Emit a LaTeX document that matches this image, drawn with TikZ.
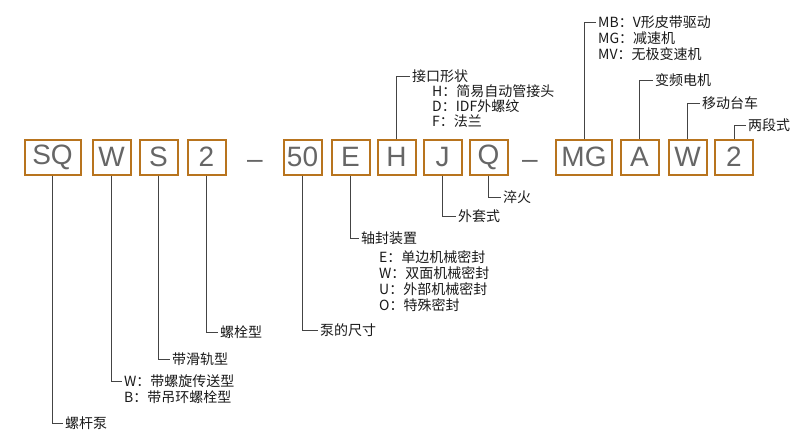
\documentclass[tikz,border=0pt]{standalone}
\usepackage{fontspec}
\setmainfont{Liberation Sans}
\newfontfamily\cjk{Noto Sans CJK SC}
\begin{document}
\begin{tikzpicture}[x=1pt,y=-1pt,
  box/.style={draw=boxc, line width=2pt, fill=white, minimum height=35pt, inner sep=0pt,
    font=\fontsize{28}{28}\selectfont, text=txtgray},
  sbox/.style={box, minimum width=38pt},
  wbox/.style={box, minimum width=56pt},
  dashtxt/.style={inner sep=0pt, font=\fontsize{28}{28}\selectfont, text=txtgray},
  lbl/.style={anchor=west, inner xsep=2pt, inner ysep=0pt, font=\cjk\fontsize{14}{16}\selectfont, text=lblc},
  sub/.style={anchor=west, inner sep=0pt, font=\cjk\fontsize{14}{16}\selectfont, text=lblc},
  conn/.style={draw=linec, line width=1pt}]
\definecolor{boxc}{HTML}{B8741E}
\definecolor{txtgray}{HTML}{666666}
\definecolor{linec}{HTML}{444444}
\definecolor{lblc}{HTML}{1A1A1A}
\useasboundingbox[fill=white] (0,0) rectangle (810,439);

% boxes
\node[wbox] (sq) at (52.5,157) {SQ};
\node[sbox] (w1) at (111.5,157) {W};
\node[sbox] (s1) at (158.5,157) {S};
\node[sbox] (two1) at (206.5,157) {2};
\node[dashtxt] (d1) at (255,164) {–};
\node[sbox] (fifty) at (302.5,157) {50};
\node[sbox] (e1) at (350.5,157) {E};
\node[sbox] (h1) at (396.5,157) {H};
\node[sbox] (j1) at (442.5,157) {J};
\node[sbox] (q1) at (488.5,157) {Q};
\node[dashtxt] (d2) at (530,164) {–};
\node[wbox] (mg) at (584,157) {MG};
\node[sbox] (a1) at (639.5,157) {A};
\node[sbox] (w2) at (687.5,157) {W};
\node[sbox] (two2) at (734,157) {2};

% bottom labels
\node[lbl] (tsq) at (63,423) {螺杆泵};
\draw[conn] (sq.south) |- (tsq.west);

\node[lbl] (tw1) at (122,381) {W：带螺旋传送型};
\node[sub] (tw1b) at (124,397) {B：带吊环螺栓型};
\draw[conn] (w1.south) |- (tw1.west);

\node[lbl] (ts1) at (170,359) {带滑轨型};
\draw[conn] (s1.south) |- (ts1.west);

\node[lbl] (ttwo1) at (218,332) {螺栓型};
\draw[conn] (two1.south) |- (ttwo1.west);

\node[lbl] (tfifty) at (318,330) {泵的尺寸};
\draw[conn] (fifty.south) |- (tfifty.west);

\node[lbl] (te1) at (359,238) {轴封装置};
\node[sub] (te1a) at (379,257) {E：单边机械密封};
\node[sub] (te1b) at (379,273) {W：双面机械密封};
\node[sub] (te1c) at (379,289) {U：外部机械密封};
\node[sub] (te1d) at (379,305) {O：特殊密封};
\draw[conn] (e1.south) |- (te1.west);

\node[lbl] (tj1) at (456,216) {外套式};
\draw[conn] (j1.south) |- (tj1.west);

\node[lbl] (tq1) at (501,197) {淬火};
\draw[conn] (q1.south) |- (tq1.west);

% top labels
\node[lbl] (th1) at (410,76) {接口形状};
\node[sub] (th1a) at (432,91) {H：简易自动管接头};
\node[sub] (th1b) at (432,106) {D：IDF外螺纹};
\node[sub] (th1c) at (432,121) {F：法兰};
\draw[conn] (h1.north) |- (th1.west);

\node[lbl] (tmg) at (596,22) {MB：V形皮带驱动};
\node[sub] (tmgb) at (598,38) {MG：减速机};
\node[sub] (tmgc) at (598,54) {MV：无极变速机};
\draw[conn] (mg.north) |- (tmg.west);

\node[lbl] (ta1) at (653,80) {变频电机};
\draw[conn] (a1.north) |- (ta1.west);

\node[lbl] (tw2) at (700,103) {移动台车};
\draw[conn] (w2.north) |- (tw2.west);

\node[lbl] (ttwo2) at (746,125) {两段式};
\draw[conn] (two2.north) |- (ttwo2.west);
\end{tikzpicture}
\end{document}
